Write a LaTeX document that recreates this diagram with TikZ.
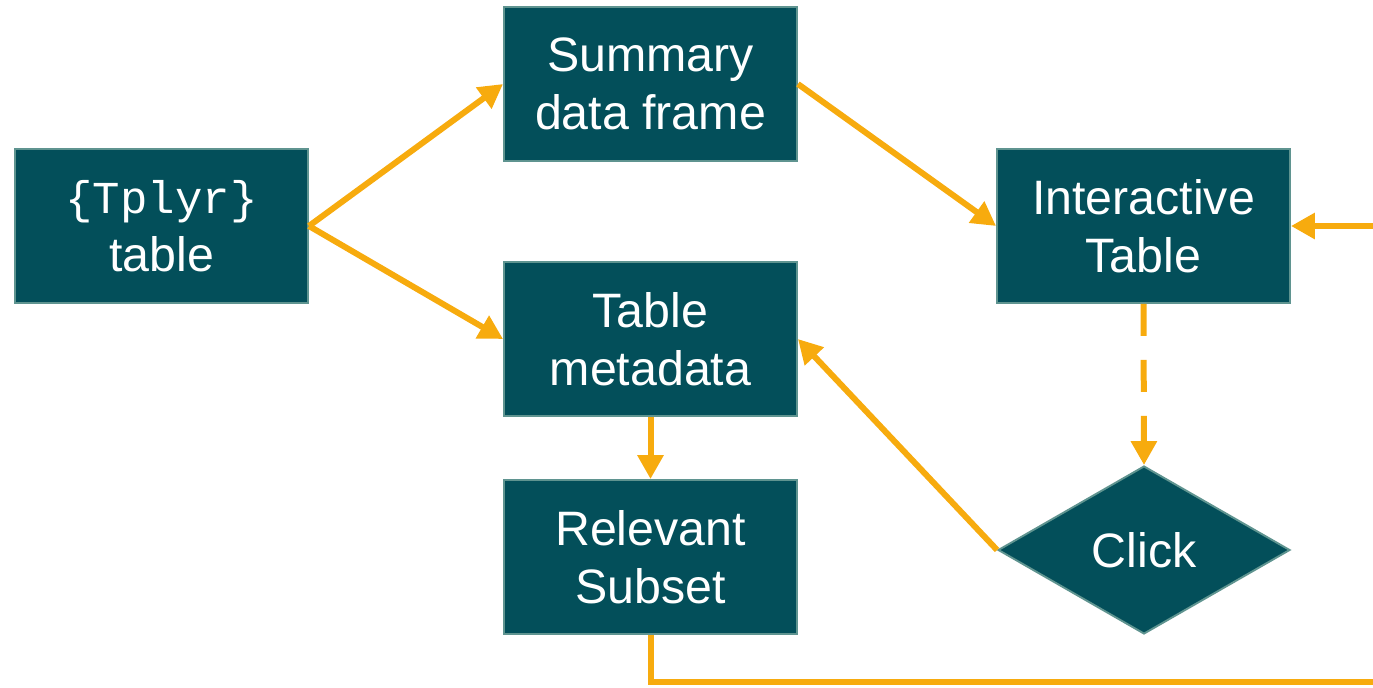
\documentclass[tikz,border=0pt]{standalone}
\usepackage{fontspec}
\setmainfont{Liberation Sans}
\newfontfamily\codefont{Liberation Mono}
\usetikzlibrary{shapes.geometric,arrows.meta}
\definecolor{tealbox}{HTML}{034F5A}
\definecolor{tealedge}{HTML}{5F9490}
\definecolor{flowgold}{HTML}{F7AB0E}
\tikzset{
  x=0.02cm, y=-0.02cm,
  flownode/.style = {align=center, inner sep=0pt, text=white, fill=tealbox, draw=tealedge,
    line width=1.1pt, font=\fontsize{27.5}{33}\selectfont},
  proc_n/.style = {flownode, rectangle, minimum width=5.86cm, minimum height=3.08cm},
  dec_n/.style = {flownode, diamond, aspect=1.74, minimum width=5.84cm, minimum height=3.36cm},
  flowarr/.style = {draw=flowgold, line width=0.12cm, -{Triangle[length=0.48cm,width=0.5cm]}},
  flowdash/.style = {flowarr, dash pattern=on 0.64cm off 0.48cm}
}

\begin{document}
\begin{tikzpicture}
	\useasboundingbox (0,0) rectangle (1373,687);
	\clip (0,0) rectangle (1373,687);
	\node [proc_n] (tplyr) at (161.5,226) {{\codefont\fontsize{26}{33}\selectfont\{Tplyr\}}\\table};
	\node [proc_n] (summary) at (650.5,84) {Summary\\data frame};
	\node [proc_n] (meta) at (650.5,339) {Table\\metadata};
	\node [proc_n] (subset) at (650.5,557) {Relevant\\Subset};
	\node [proc_n] (inter) at (1143.5,226) {Interactive\\Table};
	\node [dec_n] (click) at (1144,550) {Click};
	\coordinate (back) at (1420,682);

	\draw [flowarr] (tplyr.east) -- (summary.west);
	\draw [flowarr] (tplyr.east) -- (meta.west);
	\draw [flowarr] (summary.east) -- (inter.west);
	\draw [flowdash] (inter.south) -- (click.north);
	\draw [flowarr] (click.west) -- (meta.east);
	\draw [flowarr] (meta.south) -- (subset.north);
	\draw [flowarr] (subset.south) |- (back) |- (inter.east);
\end{tikzpicture}
\end{document}
